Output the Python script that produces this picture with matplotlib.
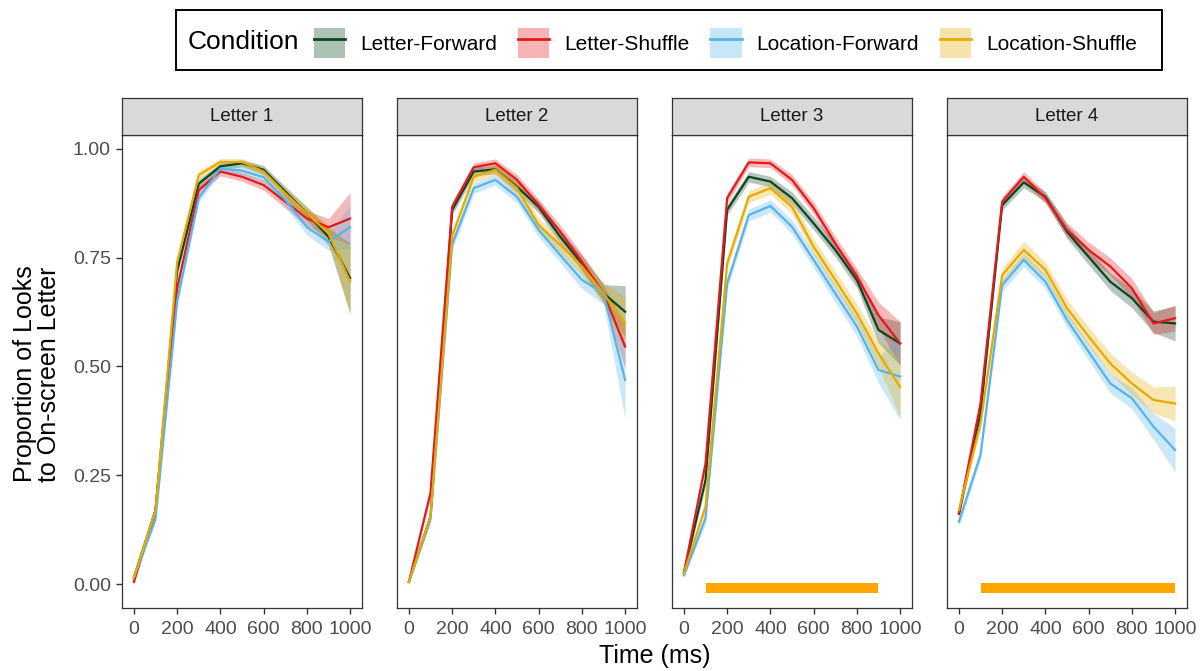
import numpy as np
import matplotlib.pyplot as plt
from matplotlib.patches import Patch, Rectangle
from matplotlib.lines import Line2D
from matplotlib.legend_handler import HandlerTuple

plt.rcParams['font.family'] = ['Liberation Sans', 'DejaVu Sans']

# data
time_ms = [0, 100, 200, 300, 400, 500, 600, 700, 800, 900, 1000]
conditions = ['Letter-Forward', 'Letter-Shuffle', 'Location-Forward', 'Location-Shuffle']
colors = ['#0B4521', '#E31A1C', '#56B4E9', '#E6AB02']
panels = ['Letter 1', 'Letter 2', 'Letter 3', 'Letter 4']

# mean proportions, rows in order of conditions
letter1 = [
    [0.015, 0.17, 0.72, 0.92, 0.96, 0.967, 0.952, 0.902, 0.852, 0.798, 0.703],
    [0.005, 0.17, 0.68, 0.905, 0.948, 0.936, 0.917, 0.879, 0.84, 0.82, 0.84],
    [0.015, 0.15, 0.65, 0.887, 0.955, 0.95, 0.935, 0.883, 0.82, 0.787, 0.82],
    [0.015, 0.17, 0.74, 0.94, 0.97, 0.97, 0.948, 0.898, 0.852, 0.806, 0.695],
]
letter2 = [
    [0.005, 0.155, 0.86, 0.948, 0.953, 0.913, 0.867, 0.798, 0.737, 0.668, 0.626],
    [0.005, 0.21, 0.867, 0.958, 0.967, 0.929, 0.871, 0.81, 0.741, 0.668, 0.546],
    [0.005, 0.15, 0.78, 0.91, 0.929, 0.89, 0.814, 0.756, 0.699, 0.668, 0.469],
    [0.005, 0.155, 0.80, 0.936, 0.952, 0.91, 0.825, 0.779, 0.73, 0.668, 0.60],
]
letter3 = [
    [0.025, 0.239, 0.86, 0.936, 0.925, 0.887, 0.829, 0.768, 0.699, 0.584, 0.553],
    [0.025, 0.277, 0.887, 0.969, 0.967, 0.929, 0.864, 0.783, 0.707, 0.618, 0.553],
    [0.02, 0.151, 0.691, 0.848, 0.869, 0.821, 0.745, 0.668, 0.592, 0.492, 0.477],
    [0.025, 0.178, 0.737, 0.89, 0.91, 0.867, 0.775, 0.699, 0.622, 0.53, 0.453],
]
letter4 = [
    [0.162, 0.392, 0.871, 0.923, 0.89, 0.81, 0.752, 0.695, 0.657, 0.603, 0.599],
    [0.162, 0.415, 0.879, 0.936, 0.887, 0.814, 0.768, 0.73, 0.68, 0.599, 0.611],
    [0.143, 0.297, 0.687, 0.745, 0.695, 0.607, 0.534, 0.461, 0.427, 0.362, 0.308],
    [0.17, 0.369, 0.71, 0.768, 0.722, 0.634, 0.569, 0.507, 0.461, 0.423, 0.415],
]

# standard errors (ribbon half widths)
se1 = [
    [0.005, 0.01, 0.012, 0.01, 0.008, 0.008, 0.01, 0.012, 0.015, 0.02, 0.08],
    [0.005, 0.01, 0.012, 0.01, 0.01, 0.01, 0.012, 0.015, 0.018, 0.02, 0.06],
    [0.005, 0.01, 0.012, 0.01, 0.01, 0.01, 0.012, 0.015, 0.018, 0.02, 0.05],
    [0.005, 0.01, 0.012, 0.01, 0.008, 0.008, 0.01, 0.012, 0.015, 0.02, 0.08],
]
se2 = [
    [0.004, 0.01, 0.012, 0.01, 0.01, 0.012, 0.014, 0.015, 0.018, 0.02, 0.06],
    [0.004, 0.01, 0.012, 0.01, 0.01, 0.012, 0.014, 0.015, 0.018, 0.02, 0.05],
    [0.004, 0.01, 0.012, 0.012, 0.012, 0.014, 0.016, 0.018, 0.02, 0.025, 0.09],
    [0.004, 0.01, 0.012, 0.012, 0.012, 0.014, 0.016, 0.018, 0.02, 0.025, 0.06],
]
se3 = [
    [0.005, 0.012, 0.012, 0.012, 0.012, 0.014, 0.015, 0.016, 0.018, 0.03, 0.05],
    [0.005, 0.012, 0.012, 0.01, 0.01, 0.012, 0.014, 0.016, 0.018, 0.03, 0.05],
    [0.005, 0.012, 0.014, 0.014, 0.014, 0.016, 0.018, 0.02, 0.022, 0.03, 0.1],
    [0.005, 0.012, 0.014, 0.014, 0.014, 0.016, 0.018, 0.02, 0.022, 0.03, 0.07],
]
se4 = [
    [0.01, 0.012, 0.012, 0.012, 0.012, 0.016, 0.018, 0.02, 0.022, 0.025, 0.04],
    [0.01, 0.012, 0.012, 0.012, 0.012, 0.016, 0.018, 0.02, 0.022, 0.025, 0.03],
    [0.01, 0.012, 0.014, 0.016, 0.016, 0.018, 0.02, 0.022, 0.024, 0.03, 0.05],
    [0.01, 0.012, 0.016, 0.02, 0.018, 0.02, 0.022, 0.024, 0.026, 0.03, 0.04],
]

# significance bars (start, end) per panel, None where absent
sig_bars = [None, None, (100, 900), (100, 1000)]
sig_y = -0.008

all_means = [letter1, letter2, letter3, letter4]
all_se = [se1, se2, se3, se4]

W, H = 1204, 671
fig = plt.figure(figsize=(W / 100, H / 100), dpi=100)

ax_left = [122, 397, 672, 947]
ax_w = 240
ax_top, ax_bot = 135, 608
strip_h = 37

for k, name in enumerate(panels):
    ax = fig.add_axes([ax_left[k] / W, 1 - ax_bot / H, ax_w / W, (ax_bot - ax_top) / H])
    t = np.array(time_ms)
    for c in range(4):
        m = np.array(all_means[k][c])
        s = np.array(all_se[k][c])
        ax.fill_between(t, m - s, m + s, color=colors[c], alpha=0.3, lw=0)
        ax.plot(t, m, color=colors[c], lw=1.6)
    if sig_bars[k] is not None:
        a, b = sig_bars[k]
        ax.plot([a, b], [sig_y, sig_y], color='#FFA500', lw=7.2, solid_capstyle='butt')
    ax.set_xlim(-55, 1055)
    ax.set_ylim(-0.055, 1.032)
    ax.set_xticks([0, 200, 400, 600, 800, 1000])
    ax.set_yticks([0, 0.25, 0.5, 0.75, 1.0])
    ax.set_yticklabels(['0.00', '0.25', '0.50', '0.75', '1.00'])
    ax.tick_params(labelsize=14, colors='#333333', labelcolor='#4D4D4D', length=4.5, width=1.0,
                   pad=3.5)
    ax.tick_params(axis='x', pad=5)
    if k > 0:
        ax.tick_params(axis='y', left=False, labelleft=False)
    for sp in ax.spines.values():
        sp.set_color('#333333')
        sp.set_linewidth(0.9)
    # facet strip
    sax = fig.add_axes([ax_left[k] / W, 1 - ax_top / H, ax_w / W, strip_h / H])
    sax.set_facecolor('#D9D9D9')
    sax.set_xticks([])
    sax.set_yticks([])
    for sp in sax.spines.values():
        sp.set_color('#333333')
        sp.set_linewidth(0.9)
    sax.text(0.5, 0.5, name, ha='center', va='center', fontsize=13.5, color='#1A1A1A',
             transform=sax.transAxes)

fig.text(655 / W, 1 - 656 / H, 'Time (ms)', ha='center', va='center', fontsize=18)
fig.text(37 / W, 1 - 374 / H, 'Proportion of Looks\nto On-screen Letter', ha='center',
         va='center', rotation=90, fontsize=18, linespacing=0.95)

# legend box
fig.patches.append(Rectangle((176 / W, 1 - 70 / H), (1162 - 176) / W, 60 / H,
                             transform=fig.transFigure, fill=False, edgecolor='black', lw=1.4))
fig.text(188 / W, 1 - 42 / H, 'Condition', ha='left', va='center', fontsize=19)
handles = [(Patch(facecolor=c, alpha=0.33, edgecolor='none'), Line2D([], [], color=c, lw=2))
           for c in colors]
fig.legend(handles, conditions, handler_map={tuple: HandlerTuple(ndivide=1, pad=0)},
           loc='center left', bbox_to_anchor=(314 / W, 1 - 43 / H), ncol=4, frameon=False,
           fontsize=15, handlelength=1.5, handleheight=1.9, handletextpad=0.72,
           columnspacing=1.0, borderpad=0, borderaxespad=0)

fig.savefig('out.png', dpi=100)
